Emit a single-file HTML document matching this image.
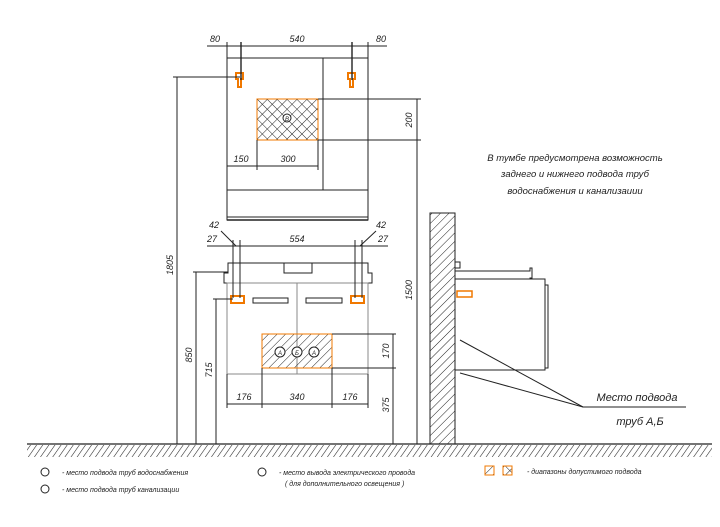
<!DOCTYPE html>
<html><head><meta charset="utf-8"><style>
html,body{margin:0;padding:0;background:#fff}
svg{display:block}
text{font-family:"Liberation Sans",sans-serif;font-style:italic;fill:#222}
</style></head><body>
<svg width="720" height="527" viewBox="0 0 720 527" xmlns="http://www.w3.org/2000/svg">
<defs>
<pattern id="h" width="6" height="6" patternUnits="userSpaceOnUse" patternTransform="rotate(45)">
<line x1="0" y1="0" x2="0" y2="6" stroke="#222" stroke-width="1"/></pattern>
<pattern id="hf" width="5" height="5" patternUnits="userSpaceOnUse" patternTransform="rotate(35)">
<line x1="0" y1="0" x2="0" y2="5" stroke="#222" stroke-width="1.1"/></pattern>
<pattern id="x" width="7" height="7" patternUnits="userSpaceOnUse" patternTransform="rotate(45)">
<line x1="0" y1="0" x2="0" y2="7" stroke="#222" stroke-width="1"/><line x1="0" y1="0" x2="7" y2="0" stroke="#222" stroke-width="1"/></pattern>
</defs>
<g stroke="#222" stroke-width="1" fill="none">
<line x1="27" y1="444" x2="712" y2="444" stroke-width="1.3"/>
<rect x="27" y="445" width="685" height="12" fill="url(#hf)" stroke="none"/>
<rect x="227" y="58" width="141" height="162"/>
<line x1="323" y1="58" x2="323" y2="190"/>
<line x1="227" y1="190" x2="368" y2="190"/>
<line x1="227" y1="217" x2="368" y2="217"/>
<line x1="227" y1="220" x2="368" y2="220" stroke-width="1.5"/>
<rect x="257" y="99" width="61" height="41" fill="url(#x)" stroke="#f07800"/>
<circle cx="287" cy="118" r="4" fill="#fff"/>
<path d="M236 73h7v6h-2v8h-3v-8h-2z M348 73h7v6h-2v8h-3v-8h-2z" stroke="#f07800" stroke-width="2"/>
<line x1="207" y1="46" x2="387" y2="46"/>
<line x1="227" y1="42" x2="227" y2="58"/><line x1="368" y1="42" x2="368" y2="58"/>
<line x1="241" y1="42" x2="241" y2="80" stroke-width="1.4"/><line x1="352" y1="42" x2="352" y2="80" stroke-width="1.4"/>
<line x1="227" y1="166" x2="318" y2="166"/>
<line x1="257" y1="140" x2="257" y2="170"/><line x1="318" y1="140" x2="318" y2="170"/>
<line x1="318" y1="99" x2="421" y2="99"/><line x1="318" y1="140" x2="421" y2="140"/>
<line x1="417" y1="99" x2="417" y2="444"/>
<line x1="173" y1="77" x2="240" y2="77"/>
<line x1="177" y1="77" x2="177" y2="444"/>
<path d="M228 263h140v10h4v10h-148v-10h4z"/>
<path d="M284 263v10h28v-10" />
<rect x="227" y="283" width="141" height="91" stroke="#888"/>
<line x1="297" y1="283" x2="297" y2="374" stroke="#888"/>
<rect x="253" y="298" width="35" height="5"/><rect x="306" y="298" width="36" height="5"/>
<rect x="231" y="296" width="13" height="7" stroke="#f07800" stroke-width="2"/>
<rect x="351" y="296" width="13" height="7" stroke="#f07800" stroke-width="2"/>
<line x1="233" y1="240" x2="233" y2="298"/><line x1="240" y1="240" x2="240" y2="298"/>
<line x1="355" y1="240" x2="355" y2="298"/><line x1="362" y1="240" x2="362" y2="298"/>
<line x1="207" y1="246" x2="388" y2="246"/>
<line x1="221" y1="231" x2="236" y2="246"/><line x1="376" y1="231" x2="360" y2="246"/>
<rect x="262" y="334" width="70" height="34" fill="url(#h)" stroke="#f07800"/>
<g fill="#fff"><circle cx="280" cy="352" r="5"/><circle cx="297" cy="352" r="5"/><circle cx="314" cy="352" r="5"/></g>
<line x1="227" y1="404" x2="368" y2="404"/>
<line x1="227" y1="374" x2="227" y2="408"/><line x1="262" y1="368" x2="262" y2="408"/><line x1="332" y1="368" x2="332" y2="408"/><line x1="368" y1="374" x2="368" y2="408"/>
<line x1="332" y1="334" x2="396" y2="334"/><line x1="332" y1="368" x2="396" y2="368"/>
<line x1="393" y1="334" x2="393" y2="444"/>
<line x1="193" y1="272" x2="228" y2="272"/><line x1="196" y1="272" x2="196" y2="444"/>
<line x1="213" y1="299" x2="233" y2="299"/><line x1="216" y1="299" x2="216" y2="444"/>
<rect x="430" y="213" width="25" height="231" fill="url(#h)"/>
<path d="M455 262h5v6h-5 M455 271h75v-3h2v10h-2v1h-75"/>
<rect x="455" y="279" width="90" height="91"/>
<rect x="545" y="285" width="3" height="83"/>
<rect x="457" y="291" width="15" height="6" stroke="#f07800" stroke-width="1.5"/>
<line x1="583" y1="407" x2="686" y2="407"/>
<line x1="583" y1="407" x2="460" y2="340"/><line x1="583" y1="407" x2="460" y2="373"/>
</g>
<g font-size="9" text-anchor="middle">
<text x="215" y="42">80</text><text x="297" y="42">540</text><text x="381" y="42">80</text>
<text x="241" y="162">150</text><text x="288" y="162">300</text>
<text x="214" y="228">42</text><text x="381" y="228">42</text>
<text x="212" y="242">27</text><text x="297" y="242">554</text><text x="383" y="242">27</text>
<text x="244" y="400">176</text><text x="297" y="400">340</text><text x="350" y="400">176</text>
<text transform="translate(412,120) rotate(-90)">200</text>
<text transform="translate(412,290) rotate(-90)">1500</text>
<text transform="translate(173,265) rotate(-90)">1805</text>
<text transform="translate(192,355) rotate(-90)">850</text>
<text transform="translate(212,370) rotate(-90)">715</text>
<text transform="translate(389,351) rotate(-90)">170</text>
<text transform="translate(389,405) rotate(-90)">375</text>
<text x="287" y="121" font-size="6">В</text>
<text x="280" y="355" font-size="6">А</text><text x="297" y="355" font-size="6">Б</text><text x="314" y="355" font-size="6">А</text>
<text x="575" y="161" font-size="9.5">В тумбе предусмотрена возможность</text>
<text x="575" y="177" font-size="9.5">заднего и нижнего подвода труб</text>
<text x="575" y="194" font-size="9.5">водоснабжения и канализаиии</text>
<text x="637" y="401" font-size="11">Место подвода</text>
<text x="640" y="425" font-size="11">труб А,Б</text>
</g>
<g font-size="7">
<circle cx="45" cy="472" r="4" fill="none" stroke="#222"/><text x="62" y="475">- место подвода труб водоснабжения</text>
<circle cx="45" cy="489" r="4" fill="none" stroke="#222"/><text x="62" y="492">- место подвода труб канализации</text>
<circle cx="262" cy="472" r="4" fill="none" stroke="#222"/><text x="279" y="475">- место вывода электрического провода</text>
<text x="285" y="486">( для дополнительного освещения )</text>
<rect x="485" y="466" width="9" height="9" fill="url(#h)" stroke="#f07800"/>
<rect x="503" y="466" width="9" height="9" fill="url(#x)" stroke="#f07800"/>
<text x="527" y="474">- диапазоны допустимого подвода</text>
</g>
</svg>
</body></html>
